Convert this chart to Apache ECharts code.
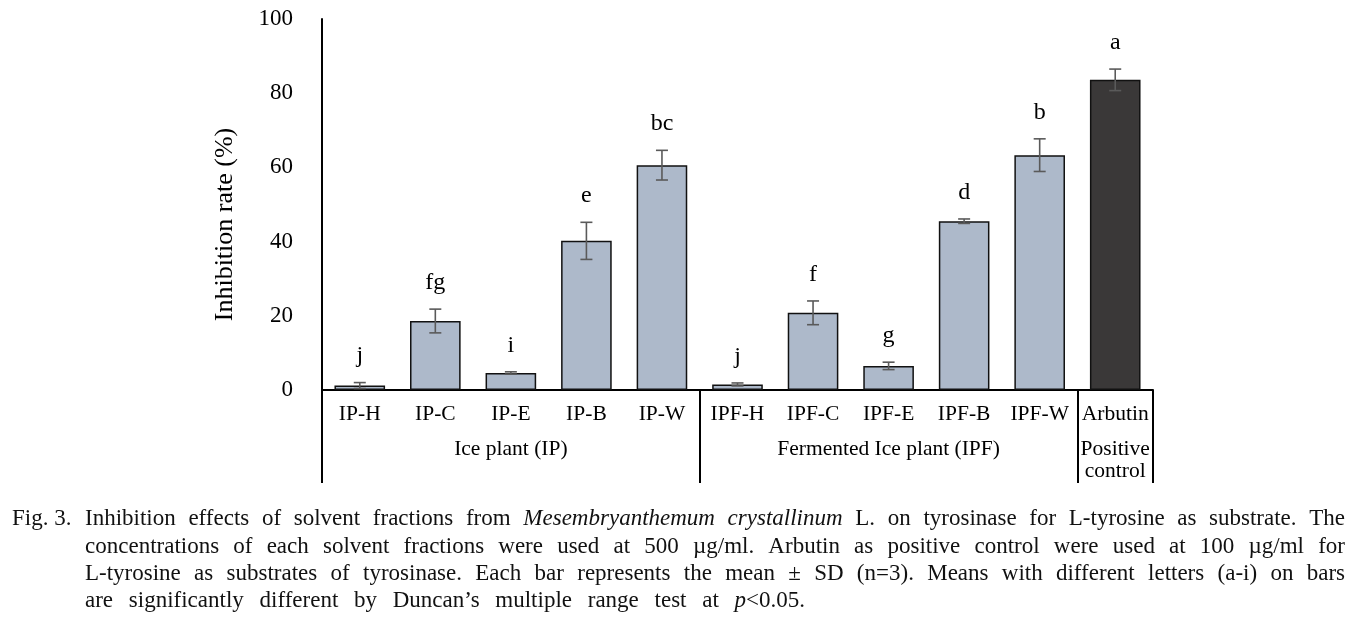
<!DOCTYPE html>
<html><head><meta charset="utf-8">
<script src="https://cdn.jsdelivr.net/npm/echarts@6/dist/echarts.min.js"></script>
<style>html,body{margin:0;padding:0;background:#fff}#c{width:1366px;height:635px}</style>
</head><body><div id="c"></div>
<script>
// ---- data ----
const categories = ['IP-H','IP-C','IP-E','IP-B','IP-W','IPF-H','IPF-C','IPF-E','IPF-B','IPF-W','Arbutin'];
const means = [1.2, 18.6, 4.6, 40.2, 60.6, 1.5, 20.8, 6.5, 45.5, 63.3, 83.6];
const sds = [0.8, 3.2, 0.3, 5.0, 4.0, 0.4, 3.2, 1.0, 0.6, 4.4, 2.9];
const letters = ['j','fg','i','e','bc','j','f','g','d','b','a'];
const yTicks = [0, 20, 40, 60, 80, 100];
const groupNames = ['Ice plant (IP)', 'Fermented Ice plant (IPF)', 'Positive\ncontrol'];
const groupCenters = [2.5, 7.5, 10.5];
const groupBounds = [0, 5, 10, 11];
const captionLines = [
  'Inhibition effects of solvent fractions from *Mesembryanthemum* *crystallinum* L. on tyrosinase for L-tyrosine as substrate. The',
  'concentrations of each solvent fractions were used at 500 \u00b5g/ml. Arbutin as positive control were used at 100 \u00b5g/ml for',
  'L-tyrosine as substrates of tyrosinase. Each bar represents the mean \u00b1 SD (n=3). Means with different letters (a-i) on bars',
  'are significantly different by Duncan\u2019s multiple range test at *p*<0.05.'
];

const SERIF = '"Liberation Serif", "Times New Roman", serif';
const chart = echarts.init(document.getElementById('c'));

// caption (justified text built from words)
const capFont = 23;
const ctx = document.createElement('canvas').getContext('2d');
function fontStr(it){ return (it ? 'italic ' : '') + capFont + 'px ' + SERIF; }
function measure(t, it){ ctx.font = fontStr(it); return ctx.measureText(t).width; }
const capY = [519, 546.5, 574, 601];
const capX0 = 85, capRight = [1345, 1345, 1345, 805];
const graphics = [];
graphics.push({type:'text', x:12, y:capY[0], style:{text:'Fig. 3.', font:fontStr(false), fill:'#111', verticalAlign:'middle'}});
captionLines.forEach((line, li) => {
  const words = line.split(' ').map(w => {
    const segs = [];
    w.split('*').forEach((s, k) => { if (s.length) segs.push({t:s, it:k % 2 === 1}); });
    const width = segs.reduce((a, s) => a + measure(s.t, s.it), 0);
    return {segs, width};
  });
  const total = words.reduce((a, w) => a + w.width, 0);
  const gap = (capRight[li] - capX0 - total) / (words.length - 1);
  let x = capX0;
  words.forEach(w => {
    let sx = x;
    w.segs.forEach(s => {
      graphics.push({type:'text', x:sx, y:capY[li], style:{text:s.t, font:fontStr(s.it), fill:'#111', verticalAlign:'middle'}});
      sx += measure(s.t, s.it);
    });
    x += w.width + gap;
  });
});

const option = {
  animation: false,
  backgroundColor: '#fff',
  grid: {left: 322, top: 19, right: 213, bottom: 245, containLabel: false},
  xAxis: [
    {
      type: 'category', data: categories, position: 'bottom',
      axisLine: {show: true, lineStyle: {color: '#000', width: 2}},
      axisTick: {show: false},
      axisLabel: {color: '#000', fontFamily: SERIF, fontSize: 21.5, margin: 13, interval: 0},
      splitLine: {show: false}
    },
    {
      type: 'value', min: 0, max: 11, position: 'bottom',
      axisLine: {show: false},
      axisTick: {show: true, customValues: groupBounds, length: 93, lineStyle: {color: '#000', width: 2}},
      axisLabel: {
        show: true, customValues: groupCenters, margin: 48, color: '#000', fontFamily: SERIF, fontSize: 21.5, lineHeight: 22,
        formatter: v => { const k = groupCenters.indexOf(v); return k >= 0 ? groupNames[k] : ''; }
      },
      splitLine: {show: false}
    }
  ],
  yAxis: {
    type: 'value', min: 0, max: 100, interval: 20,
    name: 'Inhibition rate (%)', nameLocation: 'middle', nameGap: 84, nameRotate: 90,
    nameTextStyle: {color: '#000', fontFamily: SERIF, fontSize: 26, padding: [0, 40, 0, 0]},
    axisLine: {show: true, lineStyle: {color: '#000', width: 2}},
    axisTick: {show: false},
    axisLabel: {color: '#000', fontFamily: SERIF, fontSize: 23, margin: 29,
      formatter: v => yTicks.indexOf(v) >= 0 ? String(v) : ''},
    splitLine: {show: false}
  },
  series: [
    {
      type: 'bar', xAxisIndex: 0, barWidth: '67%',
      data: means.map((m, i) => ({
        value: m,
        itemStyle: {color: i === categories.length - 1 ? '#3a3838' : '#adb9ca'}
      })),
      itemStyle: {borderColor: '#111', borderWidth: 1.5}
    },
    {
      type: 'custom', xAxisIndex: 0, z: 5,
      data: means.map((m, i) => [i, m, sds[i]]),
      renderItem: (params, api) => {
        const i = api.value(0), m = api.value(1), s = api.value(2);
        const top = api.coord([i, m + s]);
        const bot = api.coord([i, m - s]);
        const x = top[0], hw = 6;
        const st = {stroke: '#5a5a5a', lineWidth: 1.6};
        return {type: 'group', children: [
          {type: 'line', shape: {x1: x, y1: top[1], x2: x, y2: bot[1]}, style: st},
          {type: 'line', shape: {x1: x - hw, y1: top[1], x2: x + hw, y2: top[1]}, style: st},
          {type: 'line', shape: {x1: x - hw, y1: bot[1], x2: x + hw, y2: bot[1]}, style: st},
          {type: 'text', style: {text: letters[params.dataIndex], x: x, y: top[1] - 26.5, align: 'center',
            verticalAlign: 'middle', font: '24px ' + SERIF, fill: '#000'}}
        ]};
      }
    }
  ],
  graphic: graphics
};
chart.setOption(option);
</script>
</body></html>
